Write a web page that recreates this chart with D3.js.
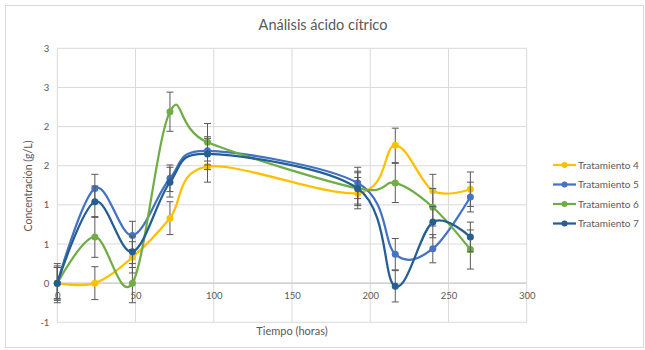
<!DOCTYPE html>
<html><head><meta charset="utf-8">
<script src="https://cdn.jsdelivr.net/npm/d3@7"></script>
<style>body{margin:0;background:#fff}svg{display:block}text{font-family:Lato,"Open Sans",sans-serif}</style>
</head><body>
<script>
const hours = [0, 24, 48, 72, 96, 192, 216, 240, 264];
const seriesNames = ["Tratamiento 4", "Tratamiento 5", "Tratamiento 6", "Tratamiento 7"];
const t4 = [0, 0, 0.33, 0.83, 1.49, 1.15, 1.76, 1.18, 1.20];
const t5 = [0, 1.21, 0.61, 1.34, 1.69, 1.28, 0.37, 0.44, 1.10];
const t6 = [0, 0.59, 0, 2.19, 1.80, 1.21, 1.28, 0.97, 0.43];
const t7 = [0, 1.04, 0.40, 1.29, 1.65, 1.21, -0.04, 0.78, 0.59];
const e4 = [0.2, 0.21, 0.2, 0.21, 0.2, 0.2, 0.22, 0.21, 0.22];
const e5 = [0.2, 0.18, 0.18, 0.17, 0.18, 0.2, 0.2, 0.18, 0.19];
const e6 = [0.25, 0.26, 0.25, 0.25, 0.24, 0.22, 0.25, 0.24, 0.25];
const e7 = [0.22, 0.2, 0.2, 0.19, 0.2, 0.2, 0.2, 0.2, 0.19];
const yTickValues = [-0.5, 0, 0.5, 1, 1.5, 2, 2.5, 3];
const yTickLabels = ["-1", "0", "1", "1", "2", "2", "3", "3"];
const xTickValues = [0, 50, 100, 150, 200, 250, 300];
const colors = ["#FFC000", "#4472C4", "#70AD47", "#255E91"];

const W = 645, H = 350;
const svg = d3.select("body").append("svg").attr("width", W).attr("height", H);
svg.append("rect").attr("x", 5.5).attr("y", 5.5).attr("width", 638).attr("height", 342)
  .attr("fill", "#fff").attr("stroke", "#d9d9d9");

const x = d3.scaleLinear().domain([0, 300]).range([57.3, 526.7]);
const y = d3.scaleLinear().domain([-0.5, 3]).range([322.3, 48.3]);

// grid
const g = svg.append("g");
g.selectAll("line.h").data(yTickValues).enter().append("line")
  .attr("x1", x(0)).attr("x2", x(300)).attr("y1", d => y(d)).attr("y2", d => y(d))
  .attr("stroke", "#d9d9d9").attr("stroke-width", 1);
g.selectAll("line.v").data(xTickValues).enter().append("line")
  .attr("y1", y(-0.5)).attr("y2", y(3)).attr("x1", d => x(d)).attr("x2", d => x(d))
  .attr("stroke", "#d9d9d9").attr("stroke-width", 1);
g.append("line").attr("x1", x(0)).attr("x2", x(300)).attr("y1", y(0)).attr("y2", y(0))
  .attr("stroke", "#d0d0d0").attr("stroke-width", 1.5);

const yAxis = d3.axisLeft(y).tickValues(yTickValues).tickSize(0).tickPadding(8)
  .tickFormat((d, i) => yTickLabels[i]);
const ya = svg.append("g").attr("transform", `translate(${x(0)},0)`).call(yAxis);
ya.select(".domain").remove();
ya.selectAll("text").attr("fill", "#595959").style("font-size", "9.5px").style("font-family", "Lato, sans-serif");

const vals = [t4, t5, t6, t7];
const errs = [e4, e5, e6, e7];
const line = d3.line().x(d => x(d.h)).y(d => y(d.v)).curve(d3.curveCardinal.tension(0));

vals.forEach((v, si) => {
  const pts = hours.map((h, i) => ({h, v: v[i], e: errs[si][i]}));
  const sg = svg.append("g");
  sg.append("path").datum(pts).attr("d", line).attr("fill", "none")
    .attr("stroke", colors[si]).attr("stroke-width", 2.25);
  const eb = sg.selectAll("g.eb").data(pts).enter().append("g");
  eb.append("line").attr("x1", d => x(d.h)).attr("x2", d => x(d.h))
    .attr("y1", d => y(d.v - d.e)).attr("y2", d => y(d.v + d.e))
    .attr("stroke", "#595959").attr("stroke-width", 1);
  [1, -1].forEach(sgn => {
    eb.append("line").attr("x1", d => x(d.h) - 3.5).attr("x2", d => x(d.h) + 3.5)
      .attr("y1", d => y(d.v + sgn * d.e)).attr("y2", d => y(d.v + sgn * d.e))
      .attr("stroke", "#595959").attr("stroke-width", 1);
  });
  sg.selectAll("circle").data(pts).enter().append("circle")
    .attr("cx", d => x(d.h)).attr("cy", d => y(d.v)).attr("r", 3.5).attr("fill", colors[si]);
});

// x axis labels drawn on top (as in reference, they overlap error bars)
const xAxis = d3.axisBottom(x).tickValues(xTickValues).tickSize(0).tickPadding(9).tickFormat(d3.format("d"));
const xa = svg.append("g").attr("transform", `translate(0,${y(0)})`).call(xAxis);
xa.select(".domain").remove();
xa.selectAll("text").attr("fill", "#595959").style("font-size", "9.5px").style("font-family", "Lato, sans-serif");

// titles
svg.append("text").attr("x", 323).attr("y", 30).attr("text-anchor", "middle")
  .attr("fill", "#595959").style("font-size", "14.5px").text("Análisis ácido cítrico");
svg.append("text").attr("x", 292).attr("y", 335).attr("text-anchor", "middle")
  .attr("fill", "#595959").style("font-size", "11px").text("Tiempo (horas)");
svg.append("text").attr("transform", "translate(32,186) rotate(-90)").attr("text-anchor", "middle")
  .attr("fill", "#595959").style("font-size", "10.5px").text("Concentración (g/L)");

// legend
const lg = svg.append("g");
seriesNames.forEach((n, i) => {
  const yy = 165 + i * 19.5;
  lg.append("line").attr("x1", 553).attr("x2", 576).attr("y1", yy).attr("y2", yy)
    .attr("stroke", colors[i]).attr("stroke-width", 2.25);
  lg.append("circle").attr("cx", 564.5).attr("cy", yy).attr("r", 3).attr("fill", colors[i]);
  lg.append("text").attr("x", 578).attr("y", yy + 3.5).attr("fill", "#595959")
    .style("font-size", "10px").text(n);
});
</script>
</body></html>
